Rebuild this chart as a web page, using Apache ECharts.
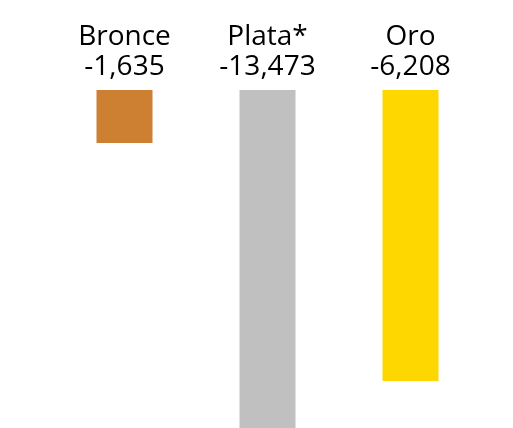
<!DOCTYPE html>
<html>
<head>
<meta charset="utf-8">
<script src="https://cdn.jsdelivr.net/npm/echarts@6/dist/echarts.min.js"></script>
<style>
  html, body { margin: 0; padding: 0; background: #fff; }
  #chart { width: 513px; height: 428px; }
</style>
</head>
<body>
<div id="chart"></div>
<script>
// medallas
const categories = ['Bronce', 'Plata*', 'Oro']
const labelValues = ['-1,635', '-13,473', '-6,208']
// bar lengths as drawn in the picture (relative, 0 = top baseline)
const barValues = [-15.7, -100, -86.1]
const barColors = ['#CD7F32', '#C0C0C0', '#FFD700']

const chart = echarts.init(document.getElementById('chart'))
const option = {
  animation: false,
  grid: { left: 53, right: 31, top: 90, bottom: 0 },
  xAxis: {
    type: 'category',
    position: 'top',
    data: categories,
    axisLine: { show: false },
    axisTick: { show: false },
    axisLabel: {
      margin: 8,
      fontFamily: 'Open Sans',
      fontSize: 28,
      lineHeight: 30,
      color: '#000',
      formatter: (v, i) => v + '\n' + labelValues[i]
    }
  },
  yAxis: {
    type: 'value',
    min: -100,
    max: 0,
    show: false,
    splitLine: { show: false }
  },
  series: [
    {
      type: 'bar',
      barWidth: 56,
      data: barValues.map((v, i) => ({ value: v, itemStyle: { color: barColors[i] } }))
    }
  ]
}
chart.setOption(option)
</script>
</body>
</html>
